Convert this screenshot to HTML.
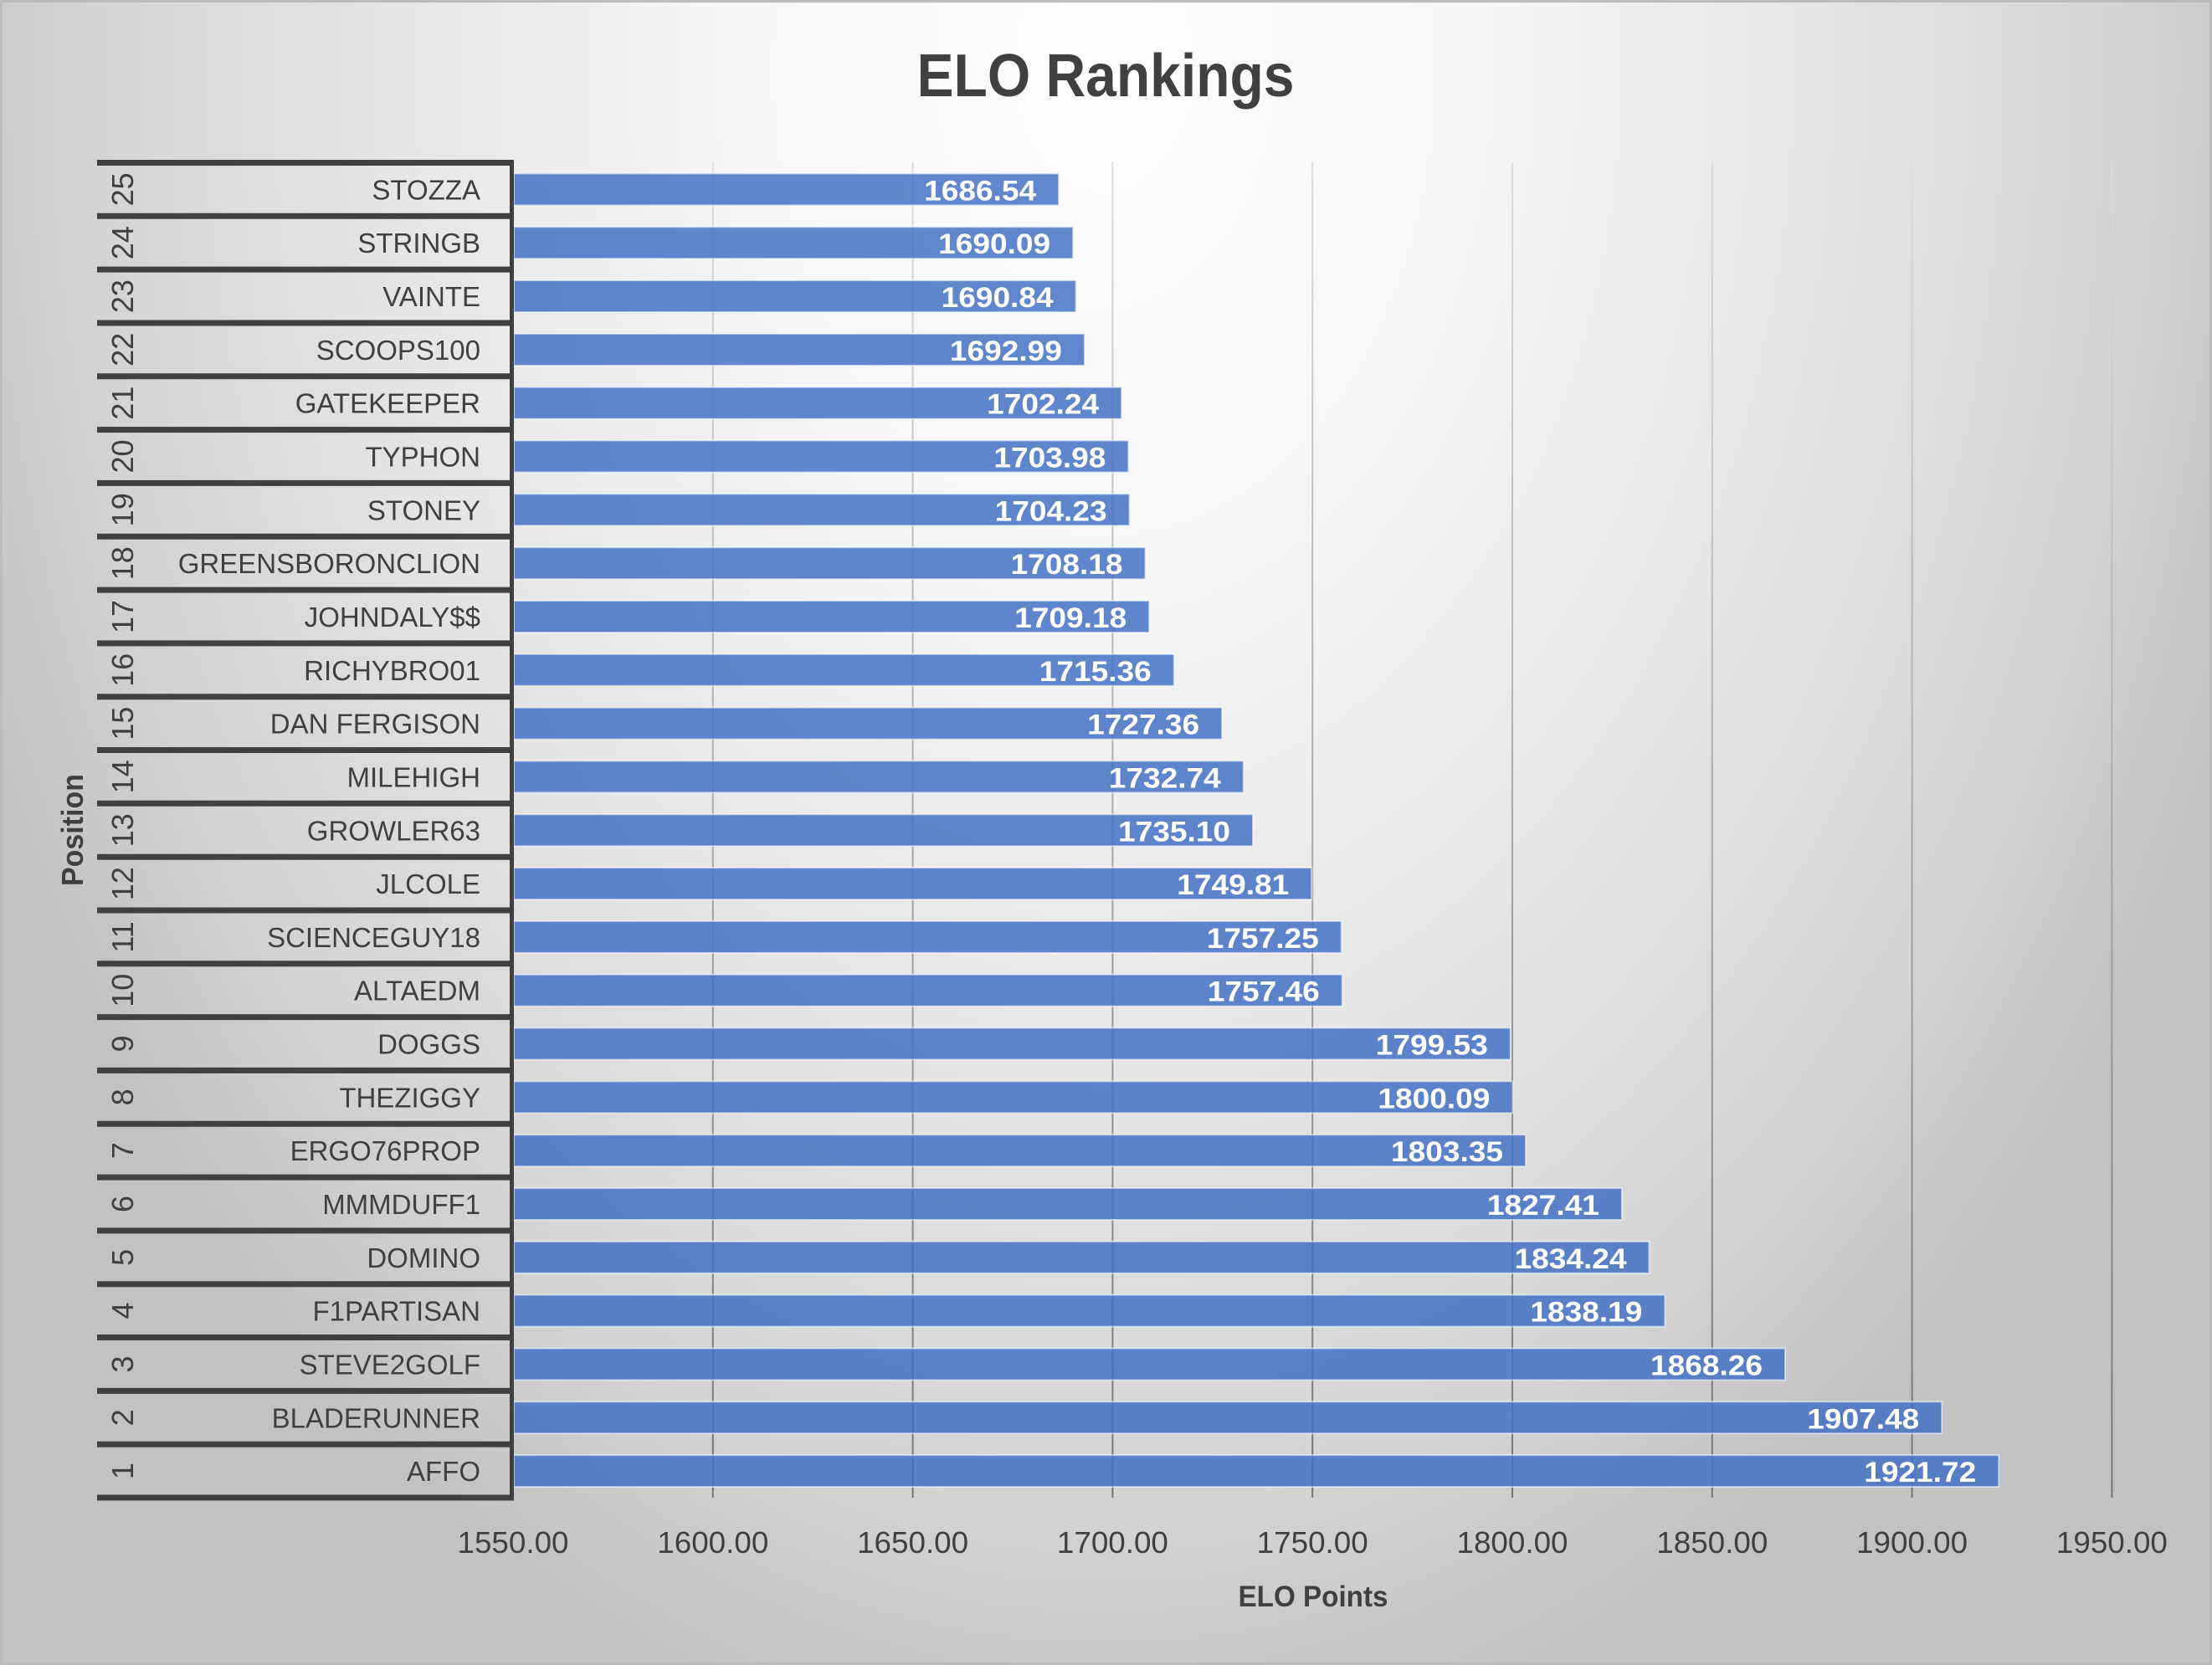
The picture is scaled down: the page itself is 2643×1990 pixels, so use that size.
<!DOCTYPE html>
<html><head><meta charset="utf-8"><style>
html,body{margin:0;padding:0;}
body{width:2643px;height:1990px;overflow:hidden;}
svg{display:block;}
text{font-family:"Liberation Sans",Arial,sans-serif;}
</style></head><body>
<svg width="2643" height="1990" viewBox="0 0 2643 1990" xmlns="http://www.w3.org/2000/svg">
<defs>
<radialGradient id="bg" gradientUnits="userSpaceOnUse" cx="1320" cy="80" r="1450" gradientTransform="translate(1320 80) scale(1 1.41) translate(-1320 -80)">
<stop offset="0" stop-color="#ffffff"/>
<stop offset="0.3" stop-color="#f6f6f6"/>
<stop offset="0.6" stop-color="#e5e5e5"/>
<stop offset="0.85" stop-color="#d3d3d3"/>
<stop offset="1" stop-color="#c2c2c2"/>
</radialGradient>
<linearGradient id="gl" gradientUnits="userSpaceOnUse" x1="0" y1="194" x2="0" y2="1790">
<stop offset="0" stop-color="#dcdcdc"/>
<stop offset="0.5" stop-color="#a8a8a8"/>
<stop offset="1" stop-color="#747474"/>
</linearGradient>
</defs>
<rect x="0" y="0" width="2643" height="1990" fill="url(#bg)"/>
<rect x="1.5" y="1.5" width="2640" height="1987" fill="none" stroke="#bcbcbc" stroke-width="3"/>

<!-- title -->
<text x="1321" y="115" text-anchor="middle" font-size="72" font-weight="bold" fill="#404040" textLength="451" lengthAdjust="spacingAndGlyphs">ELO Rankings</text>

<!-- gridlines -->
<g stroke="url(#gl)" stroke-width="2">
<line x1="851.8" y1="194" x2="851.8" y2="1790"/>
<line x1="1090.6" y1="194" x2="1090.6" y2="1790"/>
<line x1="1329.4" y1="194" x2="1329.4" y2="1790"/>
<line x1="1568.2" y1="194" x2="1568.2" y2="1790"/>
<line x1="1807" y1="194" x2="1807" y2="1790"/>
<line x1="2045.8" y1="194" x2="2045.8" y2="1790"/>
<line x1="2284.6" y1="194" x2="2284.6" y2="1790"/>
<line x1="2523.4" y1="194" x2="2523.4" y2="1790"/>
</g>

<!-- bars -->
<g fill="#4472c4" fill-opacity="0.85" stroke="#ffffff" stroke-opacity="0.55" stroke-width="2">
<rect x="614" y="207.4" width="651.1" height="38"/>
<rect x="614" y="271.2" width="668.1" height="38"/>
<rect x="614" y="335.1" width="671.6" height="38"/>
<rect x="614" y="398.9" width="681.9" height="38"/>
<rect x="614" y="462.7" width="726.1" height="38"/>
<rect x="614" y="526.5" width="734.4" height="38"/>
<rect x="614" y="590.3" width="735.6" height="38"/>
<rect x="614" y="654.2" width="754.5" height="38"/>
<rect x="614" y="718.0" width="759.2" height="38"/>
<rect x="614" y="781.8" width="788.8" height="38"/>
<rect x="614" y="845.6" width="846.1" height="38"/>
<rect x="614" y="909.4" width="871.8" height="38"/>
<rect x="614" y="973.3" width="883.0" height="38"/>
<rect x="614" y="1037.1" width="953.3" height="38"/>
<rect x="614" y="1100.9" width="988.8" height="38"/>
<rect x="614" y="1164.7" width="989.8" height="38"/>
<rect x="614" y="1228.5" width="1190.8" height="38"/>
<rect x="614" y="1292.4" width="1193.4" height="38"/>
<rect x="614" y="1356.2" width="1209.0" height="38"/>
<rect x="614" y="1420.0" width="1323.9" height="38"/>
<rect x="614" y="1483.8" width="1356.5" height="38"/>
<rect x="614" y="1547.6" width="1375.4" height="38"/>
<rect x="614" y="1611.5" width="1519.0" height="38"/>
<rect x="614" y="1675.3" width="1706.3" height="38"/>
<rect x="614" y="1739.1" width="1774.3" height="38"/>
</g>

<!-- data labels -->
<g fill="#ffffff" font-size="34" font-weight="bold" text-anchor="end">
<text x="1238.1" y="239.4" textLength="134" lengthAdjust="spacingAndGlyphs">1686.54</text>
<text x="1255.1" y="303.2" textLength="134" lengthAdjust="spacingAndGlyphs">1690.09</text>
<text x="1258.6" y="367.1" textLength="134" lengthAdjust="spacingAndGlyphs">1690.84</text>
<text x="1268.9" y="430.9" textLength="134" lengthAdjust="spacingAndGlyphs">1692.99</text>
<text x="1313.1" y="494.7" textLength="134" lengthAdjust="spacingAndGlyphs">1702.24</text>
<text x="1321.4" y="558.5" textLength="134" lengthAdjust="spacingAndGlyphs">1703.98</text>
<text x="1322.6" y="622.3" textLength="134" lengthAdjust="spacingAndGlyphs">1704.23</text>
<text x="1341.5" y="686.2" textLength="134" lengthAdjust="spacingAndGlyphs">1708.18</text>
<text x="1346.2" y="750.0" textLength="134" lengthAdjust="spacingAndGlyphs">1709.18</text>
<text x="1375.8" y="813.8" textLength="134" lengthAdjust="spacingAndGlyphs">1715.36</text>
<text x="1433.1" y="877.6" textLength="134" lengthAdjust="spacingAndGlyphs">1727.36</text>
<text x="1458.8" y="941.4" textLength="134" lengthAdjust="spacingAndGlyphs">1732.74</text>
<text x="1470.0" y="1005.3" textLength="134" lengthAdjust="spacingAndGlyphs">1735.10</text>
<text x="1540.3" y="1069.1" textLength="134" lengthAdjust="spacingAndGlyphs">1749.81</text>
<text x="1575.8" y="1132.9" textLength="134" lengthAdjust="spacingAndGlyphs">1757.25</text>
<text x="1576.8" y="1196.7" textLength="134" lengthAdjust="spacingAndGlyphs">1757.46</text>
<text x="1777.8" y="1260.5" textLength="134" lengthAdjust="spacingAndGlyphs">1799.53</text>
<text x="1780.4" y="1324.4" textLength="134" lengthAdjust="spacingAndGlyphs">1800.09</text>
<text x="1796.0" y="1388.2" textLength="134" lengthAdjust="spacingAndGlyphs">1803.35</text>
<text x="1910.9" y="1452.0" textLength="134" lengthAdjust="spacingAndGlyphs">1827.41</text>
<text x="1943.5" y="1515.8" textLength="134" lengthAdjust="spacingAndGlyphs">1834.24</text>
<text x="1962.4" y="1579.6" textLength="134" lengthAdjust="spacingAndGlyphs">1838.19</text>
<text x="2106.0" y="1643.5" textLength="134" lengthAdjust="spacingAndGlyphs">1868.26</text>
<text x="2293.3" y="1707.3" textLength="134" lengthAdjust="spacingAndGlyphs">1907.48</text>
<text x="2361.3" y="1771.1" textLength="134" lengthAdjust="spacingAndGlyphs">1921.72</text>
</g>

<!-- category table lines -->
<g stroke="#404040" stroke-width="7">
<line x1="116" y1="194.5" x2="614" y2="194.5"/>
<line x1="116" y1="258.3" x2="614" y2="258.3"/>
<line x1="116" y1="322.1" x2="614" y2="322.1"/>
<line x1="116" y1="386.0" x2="614" y2="386.0"/>
<line x1="116" y1="449.8" x2="614" y2="449.8"/>
<line x1="116" y1="513.6" x2="614" y2="513.6"/>
<line x1="116" y1="577.4" x2="614" y2="577.4"/>
<line x1="116" y1="641.2" x2="614" y2="641.2"/>
<line x1="116" y1="705.1" x2="614" y2="705.1"/>
<line x1="116" y1="768.9" x2="614" y2="768.9"/>
<line x1="116" y1="832.7" x2="614" y2="832.7"/>
<line x1="116" y1="896.5" x2="614" y2="896.5"/>
<line x1="116" y1="960.3" x2="614" y2="960.3"/>
<line x1="116" y1="1024.2" x2="614" y2="1024.2"/>
<line x1="116" y1="1088.0" x2="614" y2="1088.0"/>
<line x1="116" y1="1151.8" x2="614" y2="1151.8"/>
<line x1="116" y1="1215.6" x2="614" y2="1215.6"/>
<line x1="116" y1="1279.4" x2="614" y2="1279.4"/>
<line x1="116" y1="1343.3" x2="614" y2="1343.3"/>
<line x1="116" y1="1407.1" x2="614" y2="1407.1"/>
<line x1="116" y1="1470.9" x2="614" y2="1470.9"/>
<line x1="116" y1="1534.7" x2="614" y2="1534.7"/>
<line x1="116" y1="1598.5" x2="614" y2="1598.5"/>
<line x1="116" y1="1662.4" x2="614" y2="1662.4"/>
<line x1="116" y1="1726.2" x2="614" y2="1726.2"/>
<line x1="116" y1="1790.0" x2="614" y2="1790.0"/>
</g>
<line x1="611.5" y1="191" x2="611.5" y2="1793.5" stroke="#404040" stroke-width="5"/>

<!-- names -->
<g fill="#404040" font-size="33" text-anchor="end">
<text x="574" y="238.4">STOZZA</text>
<text x="574" y="302.2">STRINGB</text>
<text x="574" y="366.1">VAINTE</text>
<text x="574" y="429.9">SCOOPS100</text>
<text x="574" y="493.7">GATEKEEPER</text>
<text x="574" y="557.5">TYPHON</text>
<text x="574" y="621.3">STONEY</text>
<text x="574" y="685.2">GREENSBORONCLION</text>
<text x="574" y="749.0">JOHNDALY$$</text>
<text x="574" y="812.8">RICHYBRO01</text>
<text x="574" y="876.6">DAN FERGISON</text>
<text x="574" y="940.4">MILEHIGH</text>
<text x="574" y="1004.3">GROWLER63</text>
<text x="574" y="1068.1">JLCOLE</text>
<text x="574" y="1131.9">SCIENCEGUY18</text>
<text x="574" y="1195.7">ALTAEDM</text>
<text x="574" y="1259.5">DOGGS</text>
<text x="574" y="1323.4">THEZIGGY</text>
<text x="574" y="1387.2">ERGO76PROP</text>
<text x="574" y="1451.0">MMMDUFF1</text>
<text x="574" y="1514.8">DOMINO</text>
<text x="574" y="1578.6">F1PARTISAN</text>
<text x="574" y="1642.5">STEVE2GOLF</text>
<text x="574" y="1706.3">BLADERUNNER</text>
<text x="574" y="1770.1">AFFO</text>
</g>

<!-- position numbers (rotated) -->
<g fill="#404040" font-size="36" text-anchor="middle">
<text transform="translate(159 226.4) rotate(-90)">25</text>
<text transform="translate(159 290.2) rotate(-90)">24</text>
<text transform="translate(159 354.1) rotate(-90)">23</text>
<text transform="translate(159 417.9) rotate(-90)">22</text>
<text transform="translate(159 481.7) rotate(-90)">21</text>
<text transform="translate(159 545.5) rotate(-90)">20</text>
<text transform="translate(159 609.3) rotate(-90)">19</text>
<text transform="translate(159 673.2) rotate(-90)">18</text>
<text transform="translate(159 737.0) rotate(-90)">17</text>
<text transform="translate(159 800.8) rotate(-90)">16</text>
<text transform="translate(159 864.6) rotate(-90)">15</text>
<text transform="translate(159 928.4) rotate(-90)">14</text>
<text transform="translate(159 992.3) rotate(-90)">13</text>
<text transform="translate(159 1056.1) rotate(-90)">12</text>
<text transform="translate(159 1119.9) rotate(-90)">11</text>
<text transform="translate(159 1183.7) rotate(-90)">10</text>
<text transform="translate(159 1247.5) rotate(-90)">9</text>
<text transform="translate(159 1311.4) rotate(-90)">8</text>
<text transform="translate(159 1375.2) rotate(-90)">7</text>
<text transform="translate(159 1439.0) rotate(-90)">6</text>
<text transform="translate(159 1502.8) rotate(-90)">5</text>
<text transform="translate(159 1566.6) rotate(-90)">4</text>
<text transform="translate(159 1630.5) rotate(-90)">3</text>
<text transform="translate(159 1694.3) rotate(-90)">2</text>
<text transform="translate(159 1758.1) rotate(-90)">1</text>
</g>

<!-- axis title Position -->
<text transform="translate(99 992) rotate(-90)" text-anchor="middle" font-size="36" font-weight="bold" fill="#404040" textLength="134" lengthAdjust="spacingAndGlyphs">Position</text>

<!-- x tick labels -->
<g fill="#404040" font-size="36" text-anchor="middle">
<text x="613" y="1856" textLength="133" lengthAdjust="spacingAndGlyphs">1550.00</text>
<text x="851.8" y="1856" textLength="133" lengthAdjust="spacingAndGlyphs">1600.00</text>
<text x="1090.6" y="1856" textLength="133" lengthAdjust="spacingAndGlyphs">1650.00</text>
<text x="1329.4" y="1856" textLength="133" lengthAdjust="spacingAndGlyphs">1700.00</text>
<text x="1568.2" y="1856" textLength="133" lengthAdjust="spacingAndGlyphs">1750.00</text>
<text x="1807" y="1856" textLength="133" lengthAdjust="spacingAndGlyphs">1800.00</text>
<text x="2045.8" y="1856" textLength="133" lengthAdjust="spacingAndGlyphs">1850.00</text>
<text x="2284.6" y="1856" textLength="133" lengthAdjust="spacingAndGlyphs">1900.00</text>
<text x="2523.4" y="1856" textLength="133" lengthAdjust="spacingAndGlyphs">1950.00</text>
</g>

<!-- x axis title -->
<text x="1569" y="1920" text-anchor="middle" font-size="35" font-weight="bold" fill="#404040" textLength="179" lengthAdjust="spacingAndGlyphs">ELO Points</text>
</svg>
</body></html>
